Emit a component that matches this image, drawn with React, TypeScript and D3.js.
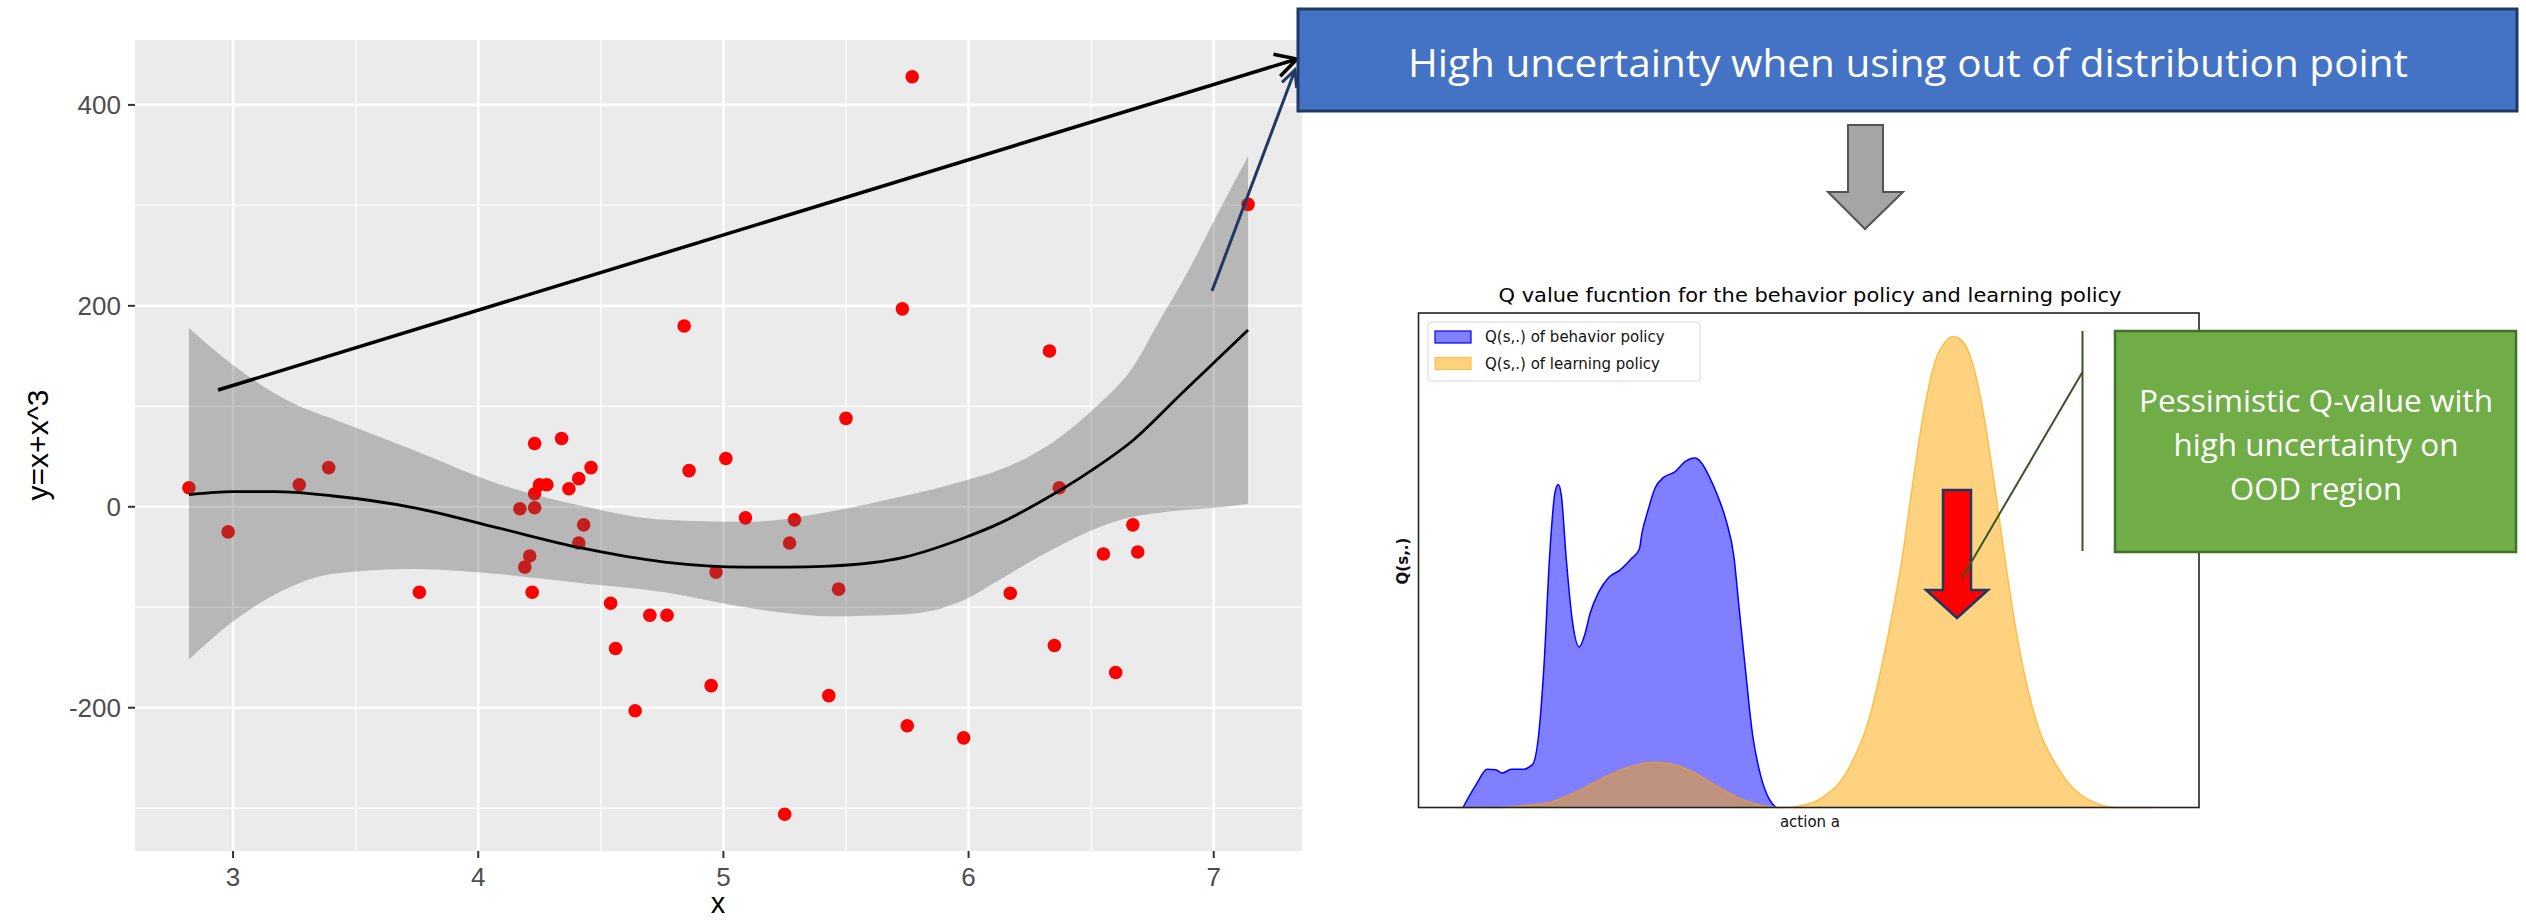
import React from "react";
import * as d3 from "d3";

// ---------- Left panel: scatter + loess ----------
const scatterX = [2.82, 2.98, 3.27, 3.39, 3.76, 4.17, 4.19, 4.21, 4.22, 4.23, 4.23, 4.23, 4.25, 4.28, 4.34, 4.37, 4.41, 4.41, 4.43, 4.46, 4.54, 4.56, 4.64, 4.70, 4.77, 4.84, 4.86, 4.95, 4.97, 5.01, 5.09, 5.25, 5.27, 5.29, 5.43, 5.47, 5.50, 5.73, 5.75, 5.77, 5.98, 6.17, 6.33, 6.35, 6.37, 6.55, 6.60, 6.67, 6.69, 7.14];
const scatterY = [19, -25, 22, 39, -85, -2, -60, -49, -85, -1, 63, 13, 22, 22, 68, 18, -36, 28, -18, 39, -96, -141, -203, -108, -108, 180, 36, -178, -65, 48, -11, -306, -36, -13, -188, -82, 88, 197, -218, 428, -230, -86, 155, -138, 19, -47, -165, -18, -45, 301];

const fitX = [2.82, 3.0, 3.17, 3.4, 3.74, 4.08, 4.42, 4.76, 5.09, 5.26, 5.43, 5.74, 5.97, 6.13, 6.3, 6.5, 6.67, 6.87, 7.14];
const fitY = [12, 15, 15, 11, -1, -21, -41, -55, -60, -60, -59, -50, -32, -16, 6, 36, 66, 113, 176];

const bandX = [2.82, 3.0, 3.27, 3.4, 3.74, 4.08, 4.42, 4.76, 5.09, 5.26, 5.43, 5.74, 5.97, 6.13, 6.33, 6.535, 6.67, 6.78, 6.89, 7.01, 7.14];
const bandHigh = [178, 141, 100, 88, 56, 23, 1, -13, -15, -12, -5, 11, 25, 37, 62, 103, 139, 186, 232, 289, 349];
const bandLow = [-152, -114, -76, -67, -62, -67, -76, -85, -100, -106, -109, -107, -94, -72, -44, -20, -10, -6, -3, -1, 3];

const xTicks = [3, 4, 5, 6, 7];
const xMinor = [3.5, 4.5, 5.5, 6.5];
const yTicks = [-200, 0, 200, 400];
const yMinor = [-300, -100, 100, 300];

// ---------- Right panel: Q value densities ----------
const behaviorA = [5.7, 7.4, 8.8, 9.9, 10.7, 11.9, 13.3, 14.6, 15.4, 16.1, 16.8, 17.5, 17.9, 18.3, 18.9, 19.7, 20.6, 21.3, 22.0, 23.1, 24.4, 25.8, 27.2, 28.3, 28.6, 29.3, 30.3, 31.4, 32.8, 34.2, 35.4, 36.3, 37.3, 38.3, 39.4, 40.4, 41.1, 41.8, 42.8, 43.9, 44.9, 45.8];
const behaviorQ = [0, 0.049, 0.081, 0.080, 0.073, 0.081, 0.081, 0.091, 0.155, 0.307, 0.534, 0.670, 0.686, 0.663, 0.534, 0.398, 0.341, 0.367, 0.413, 0.458, 0.489, 0.504, 0.527, 0.549, 0.580, 0.625, 0.678, 0.701, 0.712, 0.735, 0.742, 0.731, 0.701, 0.663, 0.610, 0.534, 0.420, 0.307, 0.155, 0.064, 0.019, 0];

const learningA = [5.0, 9.9, 13.3, 16.8, 20.3, 23.8, 27.2, 30.0, 32.8, 35.6, 38.3, 41.1, 43.9, 46.7, 49.0, 51.5, 55.0, 57.8, 59.9, 62.0, 63.3, 64.7, 66.1, 67.5, 68.5, 69.6, 71.0, 72.4, 73.8, 75.1, 76.9, 79.0, 82.1, 85.6, 89.7, 94.0];
const learningQ = [0, 0, 0.004, 0.011, 0.034, 0.064, 0.087, 0.096, 0.091, 0.072, 0.045, 0.020, 0.005, 0, 0.004, 0.019, 0.080, 0.193, 0.345, 0.534, 0.686, 0.837, 0.943, 0.989, 1.0, 0.992, 0.943, 0.837, 0.686, 0.534, 0.345, 0.193, 0.080, 0.019, 0, 0];

const legendLabels = ["Q(s,.) of behavior policy", "Q(s,.) of learning policy"];
const greenLines = ["Pessimistic Q-value with", "high uncertainty on", "OOD region"];

function arrowHead(x1: number, y1: number, x2: number, y2: number, len: number, ang: number) {
  const a = Math.atan2(y2 - y1, x2 - x1);
  const p1 = [x2 - len * Math.cos(a - ang), y2 - len * Math.sin(a - ang)];
  const p2 = [x2 - len * Math.cos(a + ang), y2 - len * Math.sin(a + ang)];
  return `M${p1[0]},${p1[1]}L${x2},${y2}L${p2[0]},${p2[1]}`;
}

export default function App() {
  // left scales
  const x = d3.scaleLinear().domain([2.6, 7.36]).range([135, 1302]);
  const y = d3.scaleLinear().domain([-342.6, 464.6]).range([851, 40]);
  const fitLine = d3.line<number>().x((_, i) => x(fitX[i])).y((d) => y(d)).curve(d3.curveMonotoneX);
  const band = d3
    .area<number>()
    .x((_, i) => x(bandX[i]))
    .y0((_, i) => y(bandLow[i]))
    .y1((d) => y(d))
    .curve(d3.curveMonotoneX);

  // right scales
  const qx = d3.scaleLinear().domain([0, 100]).range([1418.5, 2199]);
  const qy = d3.scaleLinear().domain([0, 1.05]).range([807.5, 313]);
  const behArea = d3.area<number>().x((_, i) => qx(behaviorA[i])).y0(qy(0)).y1((d) => qy(d)).curve(d3.curveMonotoneX);
  const behLine = d3.line<number>().x((_, i) => qx(behaviorA[i])).y((d) => qy(d)).curve(d3.curveMonotoneX);
  const lrnArea = d3.area<number>().x((_, i) => qx(learningA[i])).y0(qy(0)).y1((d) => qy(d)).curve(d3.curveMonotoneX);
  const lrnLine = d3.line<number>().x((_, i) => qx(learningA[i])).y((d) => qy(d)).curve(d3.curveMonotoneX);

  const gg = "'Liberation Sans', Arial, sans-serif";
  const mpl = "'DejaVu Sans', sans-serif";
  const office = "'Open Sans', 'Noto Sans', sans-serif";

  return (
    <svg width={2526} height={924} style={{ position: "absolute", left: 0, top: 0, background: "#fff" }}>
      {/* ggplot panel */}
      <rect x={135} y={40} width={1167} height={811} fill="#ebebeb" />
      {xMinor.map((v) => (
        <line key={"xm" + v} x1={x(v)} x2={x(v)} y1={40} y2={851} stroke="#fff" strokeWidth={1.3} />
      ))}
      {yMinor.map((v) => (
        <line key={"ym" + v} x1={135} x2={1302} y1={y(v)} y2={y(v)} stroke="#fff" strokeWidth={1.3} />
      ))}
      {xTicks.map((v) => (
        <line key={"xM" + v} x1={x(v)} x2={x(v)} y1={40} y2={851} stroke="#fff" strokeWidth={2.6} />
      ))}
      {yTicks.map((v) => (
        <line key={"yM" + v} x1={135} x2={1302} y1={y(v)} y2={y(v)} stroke="#fff" strokeWidth={2.6} />
      ))}
      {scatterX.map((v, i) => (
        <circle key={"p" + i} cx={x(v)} cy={y(scatterY[i])} r={6.8} fill="#f00" />
      ))}
      <path d={band(bandHigh) || ""} fill="#555" fillOpacity={0.35} />
      <path d={fitLine(fitY) || ""} fill="none" stroke="#000" strokeWidth={2.8} />
      {/* axes */}
      {yTicks.map((v) => (
        <g key={"yt" + v}>
          <line x1={128} x2={135} y1={y(v)} y2={y(v)} stroke="#333" strokeWidth={2} />
          <text x={121} y={y(v)} textAnchor="end" dominantBaseline="central" fontFamily={gg} fontSize={26} fill="#4d4d4d">
            {v}
          </text>
        </g>
      ))}
      {xTicks.map((v) => (
        <g key={"xt" + v}>
          <line x1={x(v)} x2={x(v)} y1={851} y2={858} stroke="#333" strokeWidth={2} />
          <text x={x(v)} y={877} textAnchor="middle" dominantBaseline="central" fontFamily={gg} fontSize={26} fill="#4d4d4d">
            {v}
          </text>
        </g>
      ))}
      <text x={718} y={903} textAnchor="middle" dominantBaseline="central" fontFamily={gg} fontSize={29} fill="#000">
        x
      </text>
      <text
        transform={`translate(37,445) rotate(-90)`}
        textAnchor="middle"
        dominantBaseline="central"
        fontFamily={gg}
        fontSize={30}
        fill="#000"
      >
        y=x+x^3
      </text>

      {/* annotation arrows on the left panel */}
      <line x1={218} y1={390} x2={1297} y2={59} stroke="#000" strokeWidth={3.5} />
      <path d={arrowHead(218, 390, 1297, 59, 24, 0.5)} fill="none" stroke="#000" strokeWidth={3.5} />
      <line x1={1212} y1={291} x2={1295} y2={70} stroke="#1f3864" strokeWidth={3} />
      <path d={arrowHead(1212, 291, 1295, 70, 18, 0.45)} fill="none" stroke="#1f3864" strokeWidth={3} />

      {/* blue box */}
      <rect x={1298} y={9} width={1219} height={102} fill="#4472c4" stroke="#203864" strokeWidth={3} />
      <text
        x={1908}
        y={62}
        textAnchor="middle"
        dominantBaseline="central"
        fontFamily={office}
        fontSize={38}
        fill="#fff"
        textLength={1000}
        lengthAdjust="spacingAndGlyphs"
      >
        High uncertainty when using out of distribution point
      </text>

      {/* gray down arrow */}
      <path
        d="M1848,125L1883,125L1883,192L1903,192L1865,229L1828,192L1848,192Z"
        fill="#a5a5a5"
        stroke="#555"
        strokeWidth={2}
      />

      {/* Q value chart */}
      <text
        x={1810}
        y={295}
        textAnchor="middle"
        dominantBaseline="central"
        fontFamily={mpl}
        fontSize={19}
        fill="#000"
        textLength={623}
        lengthAdjust="spacingAndGlyphs"
      >
        Q value fucntion for the behavior policy and learning policy
      </text>
      <path d={behArea(behaviorQ) || ""} fill="#0000ff" fillOpacity={0.5} />
      <path d={behLine(behaviorQ) || ""} fill="none" stroke="#0000ff" strokeWidth={1.5} />
      <path d={lrnArea(learningQ) || ""} fill="#ffa500" fillOpacity={0.5} />
      <path d={lrnLine(learningQ) || ""} fill="none" stroke="#ffa500" strokeOpacity={0.6} strokeWidth={1.5} />
      <rect x={1418.5} y={313} width={780.5} height={494.5} fill="none" stroke="#222" strokeWidth={1.6} />
      <rect x={1428} y={322} width={272} height={59} rx={3} fill="#fff" fillOpacity={0.8} stroke="#d8d8d8" strokeWidth={1} />
      <rect x={1435} y={331} width={36} height={12} fill="#0000ff" fillOpacity={0.5} stroke="#0000ff" strokeWidth={1.2} />
      <rect x={1435} y={357.5} width={36} height={12} fill="#ffa500" fillOpacity={0.5} stroke="#ffa500" strokeOpacity={0.6} strokeWidth={1.2} />
      {legendLabels.map((t, i) => (
        <text key={t} x={1485} y={337 + i * 27} dominantBaseline="central" fontFamily={mpl} fontSize={15} fill="#111">
          {t}
        </text>
      ))}
      <text
        transform="translate(1403,561) rotate(-90)"
        textAnchor="middle"
        dominantBaseline="central"
        fontFamily={mpl}
        fontSize={15}
        fontWeight="bold"
        fill="#111"
      >
        Q(s,.)
      </text>
      <text x={1810} y={822} textAnchor="middle" dominantBaseline="central" fontFamily={mpl} fontSize={15} fill="#111">
        action a
      </text>

      {/* red arrow */}
      <path
        d="M1943,490L1971,490L1971,590L1988,590L1957,618L1926,590L1943,590Z"
        fill="#ff0000"
        stroke="#1f3864"
        strokeWidth={2.5}
      />

      {/* green annotation */}
      <line x1={2082.5} y1={331} x2={2082.5} y2={551} stroke="#375623" strokeWidth={2} />
      <line x1={2082.5} y1={372} x2={1962} y2={578} stroke="#375623" strokeWidth={2} />
      <rect x={2115} y={331} width={401} height={221} fill="#70ad47" stroke="#41712a" strokeWidth={2.5} />
      {greenLines.map((t, i) => (
        <text
          key={t}
          x={2316}
          y={400 + i * 44}
          textAnchor="middle"
          dominantBaseline="central"
          fontFamily={office}
          fontSize={31}
          fill="#fff"
          textLength={[354, 285, 172][i]}
          lengthAdjust="spacingAndGlyphs"
        >
          {t}
        </text>
      ))}
    </svg>
  );
}
